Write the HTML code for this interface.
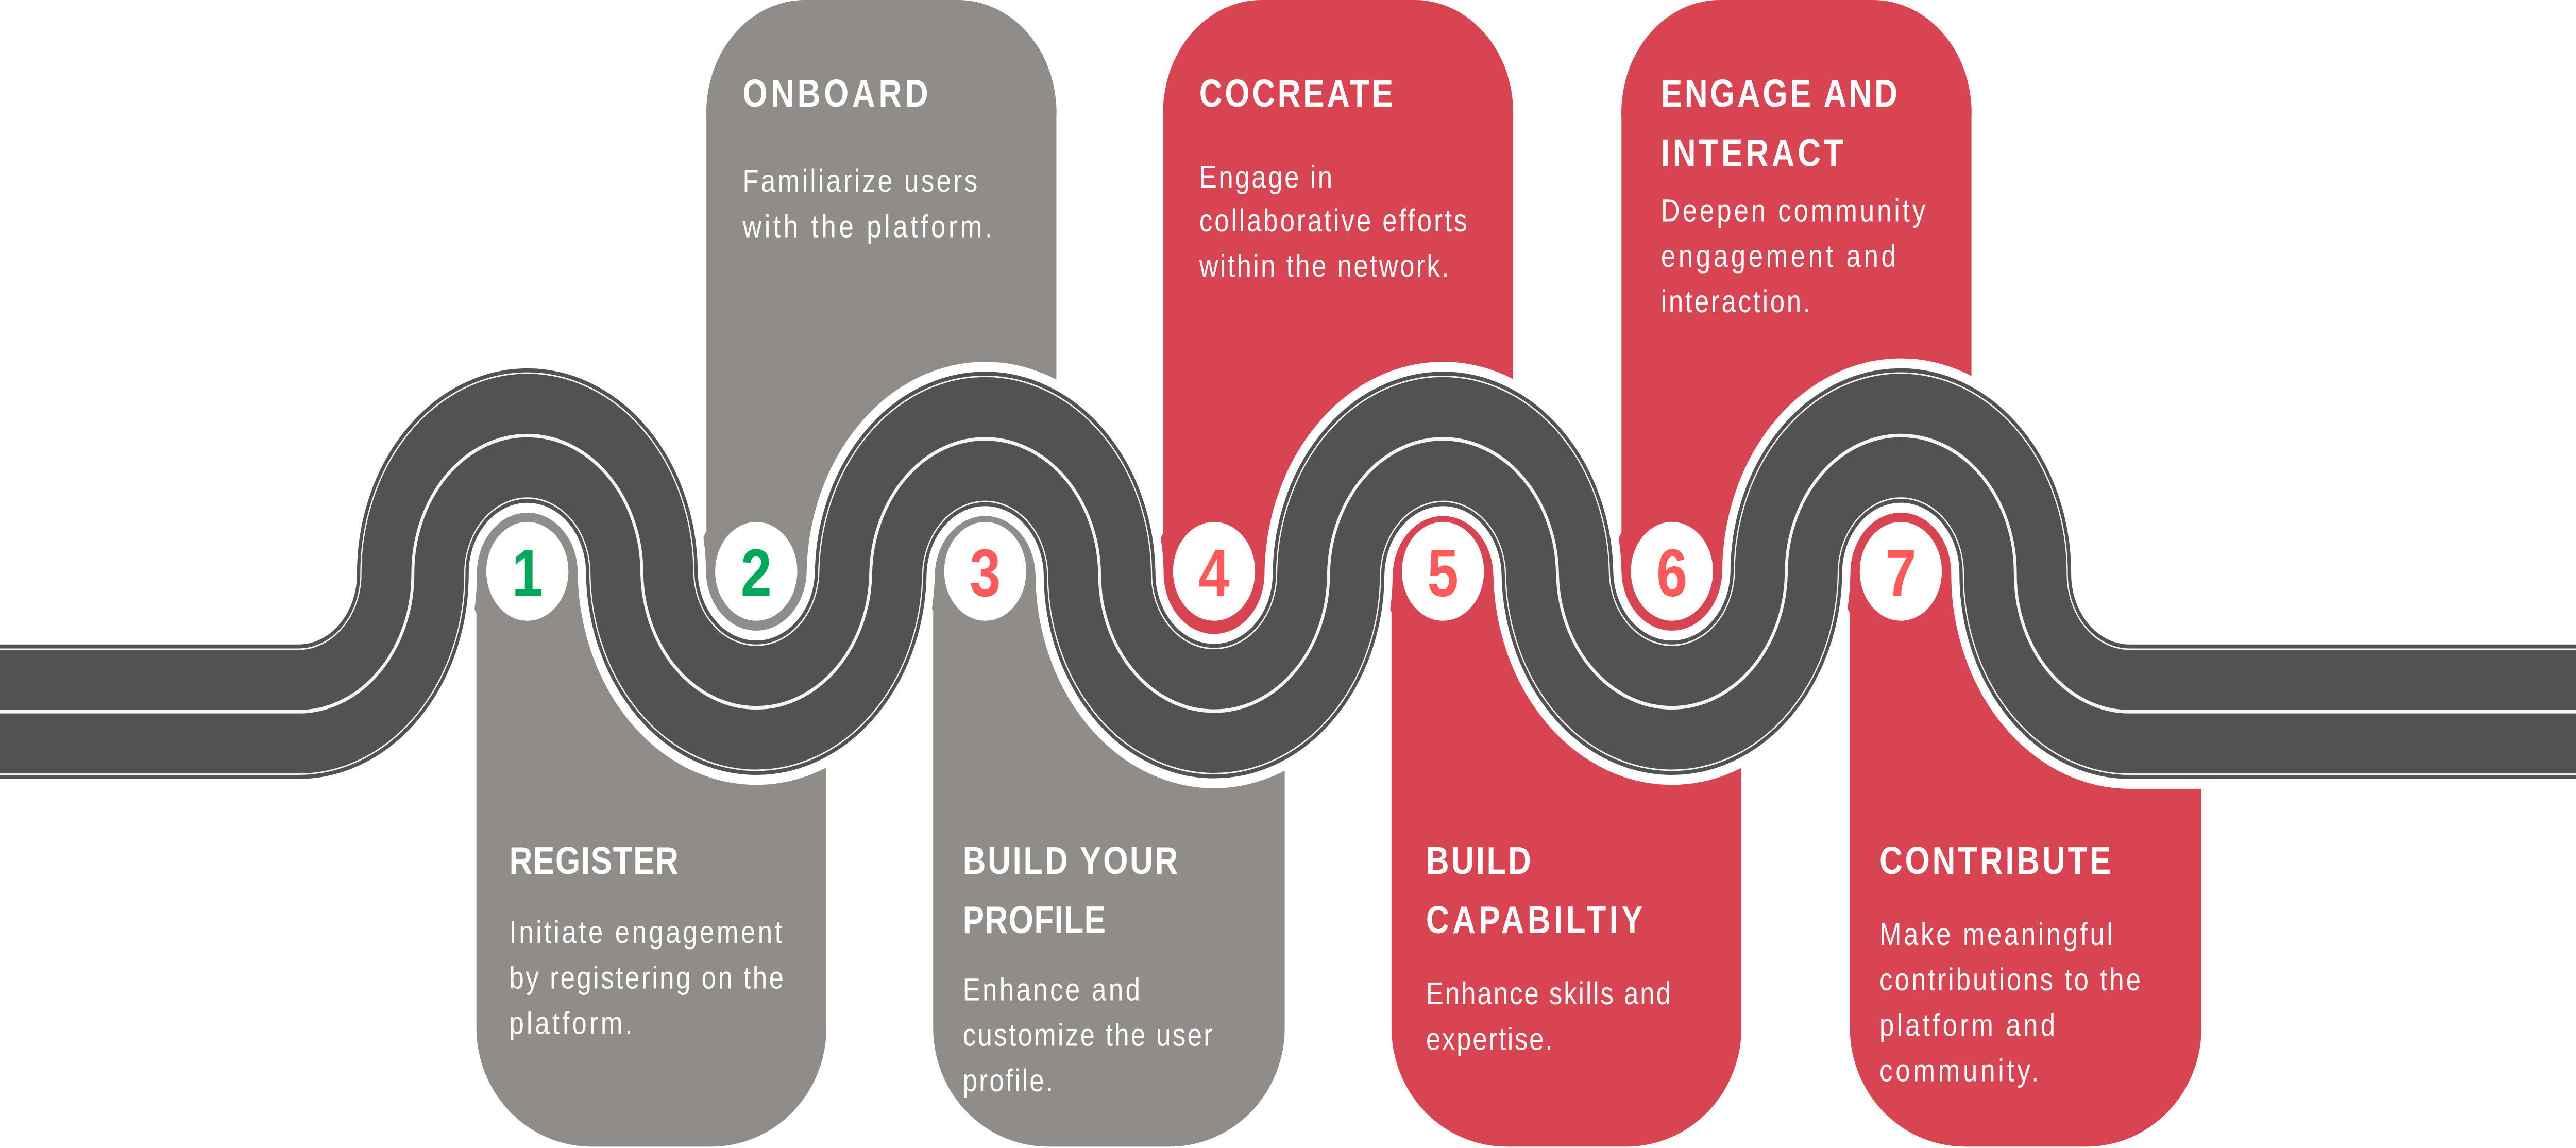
<!DOCTYPE html>
<html><head><meta charset="utf-8"><style>
html,body{margin:0;padding:0;background:#fff;width:100vw;height:100vh;overflow:hidden;}
svg{display:block;position:absolute;left:0;top:0;width:100vw;height:100vh;}
.t{font-family:"Liberation Sans",sans-serif;font-weight:bold;fill:#fff;font-size:19.5px;}
.d{font-family:"Liberation Sans",sans-serif;fill:#fff;font-size:16px;}
.n{font-family:"Liberation Sans",sans-serif;font-weight:bold;font-size:34px;text-anchor:middle;}
</style></head><body>
<svg viewBox="0 0 1568 580.7" preserveAspectRatio="none" xmlns="http://www.w3.org/2000/svg">
<defs>
<path id="rd" d="M0 360 H181.6 A69.67 69.67 0 0 0 251.3 290 A69.67 69.67 0 0 1 390.7 290 A69.67 69.67 0 0 0 530 290 A69.67 69.67 0 0 1 669.3 290 A69.67 69.67 0 0 0 808.7 290 A69.67 69.67 0 0 1 948 290 A69.67 69.67 0 0 0 1087.3 290 A69.67 69.67 0 0 1 1226.7 290 A69.67 69.67 0 0 0 1296.3 360 H1568" fill="none"/>
</defs>
<g fill="#908c89">
<path d="M290 290 H503 V520 A70 60 0 0 1 433 580 H360 A70 60 0 0 1 290 520 Z"/>
<circle cx="321" cy="290" r="37"/>
<path d="M568 290 H782 V520 A70 60 0 0 1 712 580 H638 A70 60 0 0 1 568 520 Z"/>
<circle cx="599.7" cy="290" r="37"/>
</g>
<g fill="#d94452">
<path d="M847 290 H1060 V520 A70 60 0 0 1 990 580 H917 A70 60 0 0 1 847 520 Z"/>
<circle cx="878.3" cy="290" r="37"/>
<path d="M1126 290 H1340 V520 A70 60 0 0 1 1270 580 H1196 A70 60 0 0 1 1126 520 Z"/>
<circle cx="1157" cy="290" r="37"/>
</g>
<rect x="1230" y="280" width="120" height="50" fill="#fff"/>
<path fill="#908c89" d="M430 290 V60 A60 57 0 0 1 490 0 H583 A60 57 0 0 1 643 60 V290 Z"/>
<circle fill="#908c89" cx="460.3" cy="290" r="37"/>
<g fill="#d94452">
<path d="M708 290 V60 A60 57 0 0 1 768 0 H861 A60 57 0 0 1 921 60 V290 Z"/>
<circle cx="739" cy="290" r="37"/>
<path d="M987 290 V60 A60 57 0 0 1 1047 0 H1140 A60 57 0 0 1 1200 60 V290 Z"/>
<circle cx="1017.7" cy="290" r="37"/>
</g>
<use href="#rd" stroke="#fff" stroke-width="78"/>
<use href="#rd" stroke="#525252" stroke-width="68"/>
<use href="#rd" stroke="#f4f4f4" stroke-width="64"/>
<use href="#rd" stroke="#525252" stroke-width="62.5"/>
<use href="#rd" stroke="#f4f4f4" stroke-width="1.8"/>
<g fill="#fff">
<circle cx="321" cy="289" r="25"/><circle cx="460.3" cy="289" r="25"/><circle cx="599.7" cy="289" r="25"/>
<circle cx="739" cy="289" r="25"/><circle cx="878.3" cy="289" r="25"/><circle cx="1017.7" cy="289" r="25"/><circle cx="1157" cy="289" r="25"/>
</g>
<g class="n">
<text x="321" y="301.5" fill="#00a859">1</text>
<text x="460.3" y="301.5" fill="#00a859">2</text>
<text x="599.7" y="301.5" fill="#ff5a5a">3</text>
<text x="739" y="301.5" fill="#ff5a5a">4</text>
<text x="878.3" y="301.5" fill="#ff5a5a">5</text>
<text x="1017.7" y="301.5" fill="#ff5a5a">6</text>
<text x="1157" y="301.5" fill="#ff5a5a">7</text>
</g>
<g class="t">
<text x="452" y="54" textLength="113">ONBOARD</text>
<text x="730" y="54" textLength="118">COCREATE</text>
<text x="1011" y="54" textLength="144">ENGAGE AND</text>
<text x="1011" y="84" textLength="111">INTERACT</text>
<text x="310" y="442" textLength="103">REGISTER</text>
<text x="586" y="442" textLength="131">BUILD YOUR</text>
<text x="586" y="472" textLength="87">PROFILE</text>
<text x="868" y="442" textLength="64">BUILD</text>
<text x="868" y="472" textLength="132">CAPABILTIY</text>
<text x="1144" y="442" textLength="141">CONTRIBUTE</text>
</g>
<g class="d">
<text x="452" y="97" textLength="143">Familiarize users</text>
<text x="452" y="120" textLength="152">with the platform.</text>
<text x="730" y="95" textLength="81">Engage in</text>
<text x="730" y="117" textLength="163">collaborative efforts</text>
<text x="730" y="140" textLength="152">within the network.</text>
<text x="1011" y="112" textLength="161">Deepen community</text>
<text x="1011" y="135" textLength="143">engagement and</text>
<text x="1011" y="158" textLength="91">interaction.</text>
<text x="310" y="477" textLength="166">Initiate engagement</text>
<text x="310" y="500" textLength="167">by registering on the</text>
<text x="310" y="523" textLength="75">platform.</text>
<text x="586" y="506" textLength="108">Enhance and</text>
<text x="586" y="529" textLength="152">customize the user</text>
<text x="586" y="552" textLength="55">profile.</text>
<text x="868" y="508" textLength="149">Enhance skills and</text>
<text x="868" y="531" textLength="77">expertise.</text>
<text x="1144" y="478" textLength="142">Make meaningful</text>
<text x="1144" y="501" textLength="159">contributions to the</text>
<text x="1144" y="524" textLength="107">platform and</text>
<text x="1144" y="547" textLength="97">community.</text>
</g>
</svg>
</body></html>
